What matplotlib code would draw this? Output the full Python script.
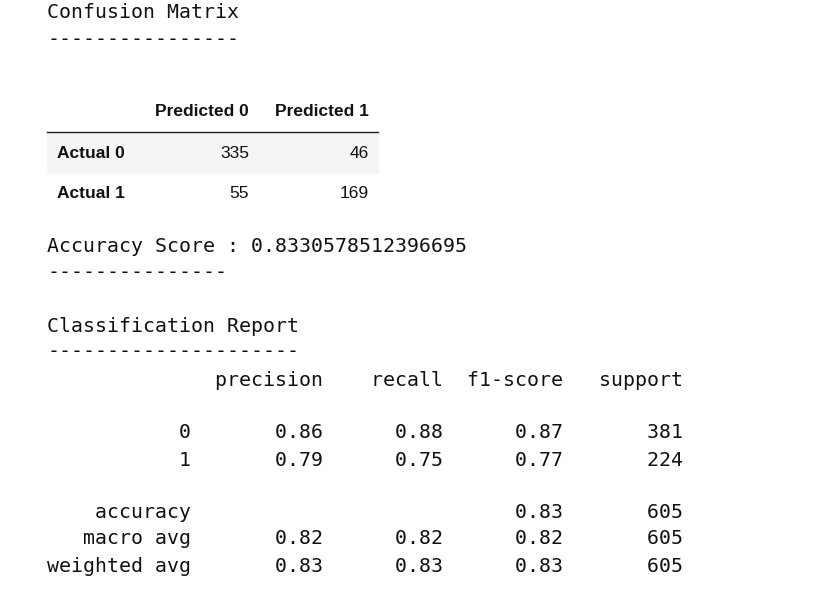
import matplotlib
matplotlib.use("Agg")
import matplotlib.pyplot as plt
from matplotlib.patches import Rectangle

W, H = 822, 605
col_labels = ["Predicted 0", "Predicted 1"]
row_labels = ["Actual 0", "Actual 1"]
cm = [[335, 46], [55, 169]]
accuracy = 0.8330578512396695
classes = ["0", "1"]
precision = [0.86, 0.79]
recall = [0.88, 0.75]
f1 = [0.87, 0.77]
support = [381, 224]
acc_row = 0.83
macro = [0.82, 0.82, 0.82]
weighted = [0.83, 0.83, 0.83]
total = 605

fig = plt.figure(figsize=(W/100, H/100), dpi=100)
fig.patch.set_facecolor("white")
mono = dict(family="DejaVu Sans Mono", fontsize=14.3, color="#111111")
sans = dict(family="Liberation Sans", fontsize=12.5, color="#111111")

def T(x, y, s, ha="left", **kw):
    fig.text(x/W, 1-y/H, s, ha=ha, va="center", **kw)

T(47, 13, "Confusion Matrix", **mono)
T(47, 40, "-"*16, **mono)

# table
fig.patches.append(Rectangle((47/W, 1-173/H), (378-47)/W, 40/H,
                             transform=fig.transFigure, color="#f5f5f5", zorder=0))
fig.add_artist(plt.Line2D([47/W, 378/W], [1-132/H, 1-132/H],
                          transform=fig.transFigure, color="#222222", lw=1))
T(249, 111, col_labels[0], ha="right", weight="bold", **sans)
T(369, 111, col_labels[1], ha="right", weight="bold", **sans)
for i, (lab, yy) in enumerate(zip(row_labels, [153, 194])):
    T(57, yy, lab, weight="bold", **sans)
    T(249, yy, str(cm[i][0]), ha="right", **sans)
    T(369, yy, str(cm[i][1]), ha="right", **sans)

T(47, 247, f"Accuracy Score : {accuracy}", **mono)
T(47, 273, "-"*15, **mono)
T(47, 327, "Classification Report", **mono)
T(47, 352, "-"*21, **mono)

lines = [(380, f"{'':>12}  {'precision':>9} {'recall':>9} {'f1-score':>9} {'support':>9}")]
for k, yy in zip(range(2), [433, 460]):
    lines.append((yy, f"{classes[k]:>12}  {precision[k]:>9.2f} {recall[k]:>9.2f} {f1[k]:>9.2f} {support[k]:>9}"))
lines.append((513, f"{'accuracy':>12}  {'':>9} {'':>9} {acc_row:>9.2f} {total:>9}"))
lines.append((539, f"{'macro avg':>12}  {macro[0]:>9.2f} {macro[1]:>9.2f} {macro[2]:>9.2f} {total:>9}"))
lines.append((566, f"{'weighted avg':>12}  {weighted[0]:>9.2f} {weighted[1]:>9.2f} {weighted[2]:>9.2f} {total:>9}"))
for yy, s in lines:
    T(47, yy, s, **mono)

fig.savefig("out.png", dpi=100)
